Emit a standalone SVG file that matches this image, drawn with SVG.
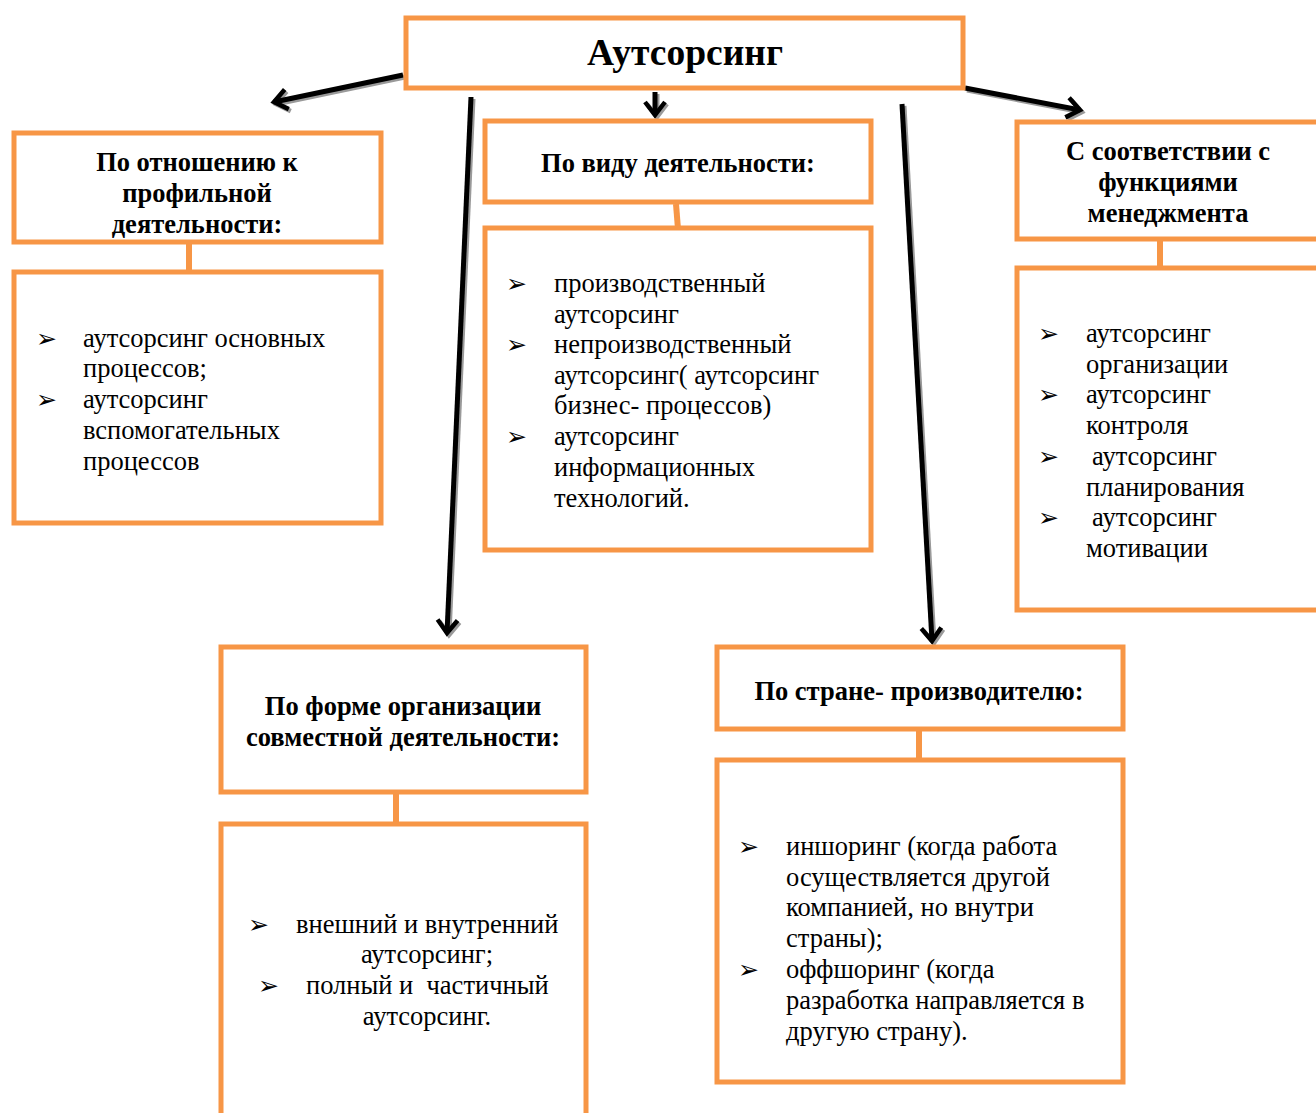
<svg xmlns="http://www.w3.org/2000/svg" width="1316" height="1113" viewBox="0 0 1316 1113">
<defs>
<style>
.box{fill:#fff;stroke:#F79646;stroke-width:5}
.link{stroke:#F79646;stroke-width:6;fill:none}
.h{font-family:"Liberation Serif",serif;font-weight:bold;font-size:26.5px;fill:#000;text-anchor:middle}
.t{font-family:"Liberation Serif",serif;font-size:26.5px;fill:#000}
.b{font-family:"DejaVu Sans",sans-serif;font-size:25px;fill:#000}
.arr{stroke:#000;stroke-width:5;fill:none;marker-end:url(#ah)}
.sh{stroke:#9a9a9a;stroke-width:5;fill:none;marker-end:url(#ahs)}
</style>
<marker id="ah" markerUnits="userSpaceOnUse" markerWidth="40" markerHeight="40" refX="20" refY="20" orient="auto" viewBox="0 0 40 40">
<path d="M7 10 L20 20 L7 30" fill="none" stroke="#000" stroke-width="4.5" stroke-linejoin="miter"/>
</marker>
<marker id="ahs" markerUnits="userSpaceOnUse" markerWidth="40" markerHeight="40" refX="20" refY="20" orient="auto" viewBox="0 0 40 40">
<path d="M7 10 L20 20 L7 30" fill="none" stroke="#9a9a9a" stroke-width="4.5"/>
</marker>
</defs>
<rect width="1316" height="1113" fill="#fff"/>

<g id="connectors">
<g transform="translate(2,2)">
<line class="sh" x1="403" y1="75" x2="274" y2="102"/>
<line class="sh" x1="655" y1="92" x2="655" y2="115"/>
<line class="sh" x1="471" y1="97" x2="447" y2="633"/>
<line class="sh" x1="902" y1="104" x2="932" y2="641"/>
<line class="sh" x1="965" y1="88" x2="1080" y2="110"/>
</g>
<line class="arr" x1="403" y1="75" x2="274" y2="102"/>
<line class="arr" x1="655" y1="92" x2="655" y2="115"/>
<line class="arr" x1="471" y1="97" x2="447" y2="633"/>
<line class="arr" x1="902" y1="104" x2="932" y2="641"/>
<line class="arr" x1="965" y1="88" x2="1080" y2="110"/>
<line class="link" x1="189" y1="244" x2="189" y2="273"/>
<line class="link" x1="676" y1="204" x2="678" y2="229"/>
<line class="link" x1="1160" y1="241" x2="1160" y2="269"/>
<line class="link" x1="396" y1="794" x2="396" y2="825"/>
<line class="link" x1="919" y1="731" x2="919" y2="761"/>
</g>

<g id="root">
<rect class="box" x="406" y="18" width="557" height="70"/>
<text class="h" x="685" y="65" style="font-size:37.5px">Аутсорсинг</text>
</g>

<g id="n1">
<rect class="box" x="14" y="133" width="367" height="109"/>
<text class="h" x="197" y="171">По отношению к</text>
<text class="h" x="197" y="202">профильной</text>
<text class="h" x="197" y="233">деятельности:</text>
</g>
<g id="n1list">
<rect class="box" x="14" y="272" width="367" height="251"/>
<text class="b" x="36" y="347">➢</text>
<text class="t" x="83" y="347">аутсорсинг основных</text>
<text class="t" x="83" y="377">процессов;</text>
<text class="b" x="36" y="408">➢</text>
<text class="t" x="83" y="408">аутсорсинг</text>
<text class="t" x="83" y="439">вспомогательных</text>
<text class="t" x="83" y="470">процессов</text>
</g>

<g id="n2">
<rect class="box" x="485" y="121" width="386" height="81"/>
<text class="h" x="678" y="172">По виду деятельности:</text>
</g>
<g id="n2list">
<rect class="box" x="485" y="228" width="386" height="322"/>
<text class="b" x="506" y="292">➢</text>
<text class="t" x="554" y="292">производственный</text>
<text class="t" x="554" y="323">аутсорсинг</text>
<text class="b" x="506" y="353">➢</text>
<text class="t" x="554" y="353">непроизводственный</text>
<text class="t" x="554" y="384">аутсорсинг( аутсорсинг</text>
<text class="t" x="554" y="414">бизнес- процессов)</text>
<text class="b" x="506" y="445">➢</text>
<text class="t" x="554" y="445">аутсорсинг</text>
<text class="t" x="554" y="476">информационных</text>
<text class="t" x="554" y="507">технологий.</text>
</g>

<g id="n3">
<rect class="box" x="1017" y="122" width="310" height="117"/>
<text class="h" x="1168" y="160">С соответствии с</text>
<text class="h" x="1168" y="191">функциями</text>
<text class="h" x="1168" y="222">менеджмента</text>
</g>
<g id="n3list">
<rect class="box" x="1017" y="268" width="310" height="342"/>
<text class="b" x="1038" y="342">➢</text>
<text class="t" x="1086" y="342">аутсорсинг</text>
<text class="t" x="1086" y="373">организации</text>
<text class="b" x="1038" y="403">➢</text>
<text class="t" x="1086" y="403">аутсорсинг</text>
<text class="t" x="1086" y="434">контроля</text>
<text class="b" x="1038" y="465">➢</text>
<text class="t" x="1092" y="465">аутсорсинг</text>
<text class="t" x="1086" y="496">планирования</text>
<text class="b" x="1038" y="526">➢</text>
<text class="t" x="1092" y="526">аутсорсинг</text>
<text class="t" x="1086" y="557">мотивации</text>
</g>

<g id="n4">
<rect class="box" x="221" y="647" width="365" height="145"/>
<text class="h" x="403" y="715">По форме организации</text>
<text class="h" x="403" y="746">совместной деятельности:</text>
</g>
<g id="n4list">
<rect class="box" x="221" y="824" width="365" height="300"/>
<text class="b" x="248" y="933">➢</text>
<text class="t" x="296" y="933">внешний и внутренний</text>
<text class="t" x="427" y="963" text-anchor="middle">аутсорсинг;</text>
<text class="b" x="258" y="994">➢</text>
<text class="t" x="306" y="994" xml:space="preserve">полный и  частичный</text>
<text class="t" x="427" y="1025" text-anchor="middle">аутсорсинг.</text>
</g>

<g id="n5">
<rect class="box" x="717" y="647" width="406" height="82"/>
<text class="h" x="919" y="700">По стране- производителю:</text>
</g>
<g id="n5list">
<rect class="box" x="717" y="760" width="406" height="322"/>
<text class="b" x="738" y="855">➢</text>
<text class="t" x="786" y="855">иншоринг (когда работа</text>
<text class="t" x="786" y="886">осуществляется другой</text>
<text class="t" x="786" y="916">компанией, но внутри</text>
<text class="t" x="786" y="947">страны);</text>
<text class="b" x="738" y="978">➢</text>
<text class="t" x="786" y="978">оффшоринг (когда</text>
<text class="t" x="786" y="1009">разработка направляется в</text>
<text class="t" x="786" y="1040">другую страну).</text>
</g>
</svg>
